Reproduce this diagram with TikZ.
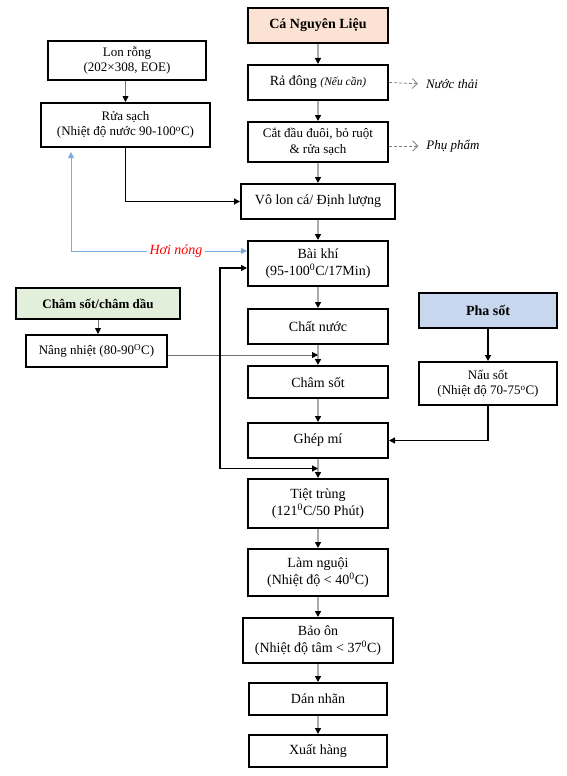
\documentclass[tikz,border=0pt]{standalone}
\usepackage{fontspec}
\setmainfont{Liberation Serif}
\usetikzlibrary{arrows.meta, shapes, calc, positioning}

\definecolor{peach}{HTML}{FBE2D3}
\definecolor{sage}{HTML}{E2EFDA}
\definecolor{sky}{HTML}{C9D7EE}
\definecolor{flowgray}{HTML}{ABABAB}
\definecolor{steamblue}{HTML}{78ACE0}

\begin{document}
\begin{tikzpicture}[x=1bp, y=-1bp]

    \tikzset
    {
        font={\fontsize{14bp}{17bp}\selectfont},
        box/.style={draw, line width=2bp, inner sep=0pt, align=center, minimum width=140bp, minimum height=35bp},
        smallbox/.style={box, font={\fontsize{13bp}{15.5bp}\selectfont}},
        titlebox/.style={box, font={\fontsize{14bp}{17bp}\selectfont\bfseries}},
        flow/.style={draw=flowgray, line width=1.8bp, -{Triangle[length=6bp, width=6bp, black]}},
        thinflow/.style={draw=black!55, line width=0.8bp, -{Triangle[length=6bp, width=6bp, black]}},
        blackflow/.style={draw=black, line width=1.2bp, -{Triangle[length=6bp, width=6bp, black]}},
        steam/.style={draw=steamblue, line width=0.9bp, -{Triangle[length=6bp, width=6bp, steamblue]}},
        waste/.style={draw=black!50, line width=0.8bp, dash pattern=on 3bp off 2bp, shorten >=6bp, -{Straight Barb[length=5bp, width=10bp]}},
        side/.style={inner sep=2bp, font={\fontsize{13bp}{15bp}\selectfont\itshape}}
    }

    \useasboundingbox (0,0) rectangle (567,776);
    \pgfmathsetmacro{\colx}{318}

    % main line
    \node[titlebox, fill=peach] (ca) at (\colx,25.5) {Cá Nguyên Liệu};
    \node[box] (radong) at (\colx,82.5) {Rả đông {\fontsize{11.5bp}{13bp}\selectfont\itshape (Nếu cần)}};
    \node[smallbox, minimum height=40bp] (catdau) at (\colx,142) {Cắt đầu đuôi, bỏ ruột\\\& rửa sạch};
    \node[box, minimum width=154bp] (volon) at (\colx,201.5) {Vô lon cá/ Định lượng};
    \node[box, minimum height=45bp] (baikhi) at (\colx,263.5) {Bài khí\\(95-100\textsuperscript{0}C/17Min)};
    \node[box] (chatnuoc) at (\colx,326.5) {Chất nước};
    \node[box, minimum height=32bp] (chamsot) at (\colx,382) {Châm sốt};
    \node[box] (ghepmi) at (\colx,440.5) {Ghép mí};
    \node[box, minimum height=49bp] (tiettrung) at (\colx,503.5) {Tiệt trùng\\(121\textsuperscript{0}C/50 Phút)};
    \node[box, minimum height=47bp] (lamnguoi) at (\colx,572.5) {Làm nguội\\(Nhiệt độ < 40\textsuperscript{0}C)};
    \node[box, minimum width=150bp, minimum height=45bp] (baoon) at (\colx,640.5) {Bảo ôn\\(Nhiệt độ tâm < 37\textsuperscript{0}C)};
    \node[box, minimum width=138bp, minimum height=32bp] (dannhan) at (\colx,699) {Dán nhãn};
    \node[box, minimum width=138bp, minimum height=32bp] (xuathang) at (\colx,751) {Xuất hàng};

    % side boxes
    \node[smallbox, minimum width=157bp, minimum height=39bp] (lonrong) at (127,60.5) {Lon rỗng\\(202×308, EOE)};
    \node[smallbox, minimum width=169bp, minimum height=44bp] (ruasach) at (125.5,125) {Rửa sạch\\(Nhiệt độ nước 90-100\textsuperscript{o}C)};
    \node[titlebox, fill=sage, minimum width=164bp, minimum height=31bp, font={\fontsize{13bp}{15bp}\selectfont\bfseries}] (chamdau) at (98,303.5) {Châm sốt/châm dầu};
    \node[smallbox, minimum width=141bp, minimum height=32bp] (nangnhiet) at (96.5,351) {Nâng nhiệt (80-90\textsuperscript{O}C)};
    \node[titlebox, fill=sky, minimum width=138bp] (phasot) at (488,310.5) {Pha sốt};
    \node[smallbox, minimum width=138bp, minimum height=43bp] (nausot) at (488,383.5) {Nấu sốt\\(Nhiệt độ 70-75\textsuperscript{o}C)};

    \node[side] (nuocthai) at (452,84) {Nước thải};
    \node[side] (phupham) at (453,146) {Phụ phẩm};
    \node[side, text=red, font={\fontsize{14bp}{17bp}\selectfont\itshape}] (hoinong) at (176,251) {Hơi nóng};

    \foreach \a/\b in {ca/radong, radong/catdau, catdau/volon, volon/baikhi, baikhi/chatnuoc, chatnuoc/chamsot, chamsot/ghepmi, ghepmi/tiettrung, tiettrung/lamnguoi, lamnguoi/baoon, baoon/dannhan, dannhan/xuathang}
        \draw[flow] (\a) -- (\b);

    \draw[thinflow] (ruasach.north |- lonrong.south) -- (ruasach.north);
    \draw[thinflow] (chamdau.south) -- (chamdau.south |- nangnhiet.north);
    \draw[blackflow] (ruasach.south) |- (volon.west);
    \draw[blackflow] (phasot) -- (nausot);
    \draw[blackflow] (nausot.south) |- (ghepmi.east);

    \coordinate (cn) at ($(chatnuoc.south)!0.5!(chamsot.north)$);
    \draw[thinflow] (nangnhiet.east |- cn) -- (cn);

    \coordinate (gt) at ($(ghepmi.south)!0.5!(tiettrung.north)$);
    \coordinate (lp) at (220,268);
    \draw[blackflow, {Triangle[length=6bp, width=6bp]}-{Triangle[length=6bp, width=6bp]}] (gt) -| (lp) -- (lp -| baikhi.west);

    \draw[steam, shorten >=4bp] (hoinong.west) -| ([xshift=31bp]ruasach.south west);
    \draw[steam] (hoinong.east) -- (hoinong.east -| baikhi.west);

    \draw[waste] (radong.east) -- (nuocthai.west);
    \draw[waste] (catdau.east |- phupham.west) -- (phupham.west);

\end{tikzpicture}
\end{document}
